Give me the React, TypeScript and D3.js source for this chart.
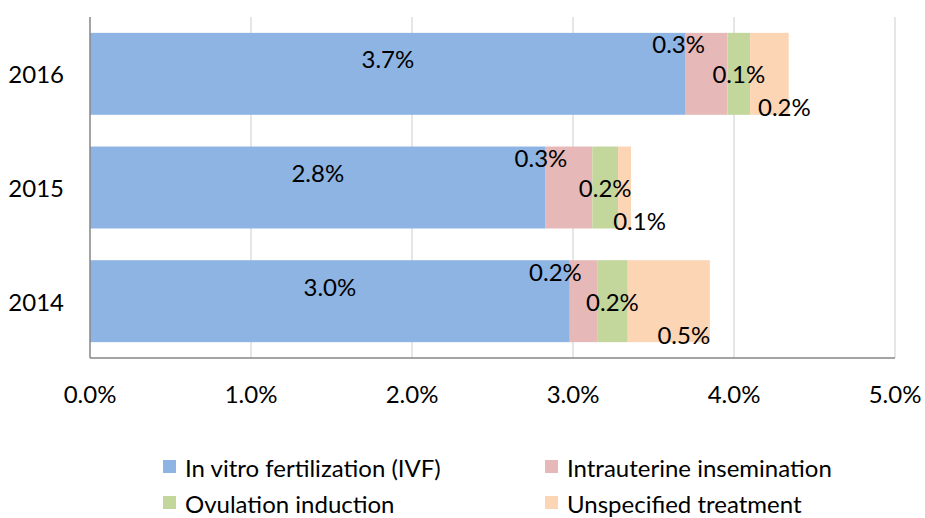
import React from "react";
import * as d3 from "d3";

const years = ["2016", "2015", "2014"];
const seriesNames = [
  "In vitro fertilization (IVF)",
  "Intrauterine insemination",
  "Ovulation induction",
  "Unspecified treatment",
];
// values in percent, per year (2016, 2015, 2014)
const ivf = [3.7, 2.83, 2.98];
const iui = [0.26, 0.29, 0.17];
const ovulation = [0.14, 0.16, 0.19];
const unspecified = [0.24, 0.08, 0.51];
const tickValues = [0, 1, 2, 3, 4, 5];

const colors = ["#8EB4E3", "#E6B9B8", "#C3D69B", "#FCD5B5"];
// label offsets per series (style)
const labelDx = [0, -28, 0, 15];
const labelDy = [-15, -30, 0, 33];

const W = 925;
const H = 518;
const FONT = "Lato, sans-serif";
const FS = 24;

export default function App() {
  const x = d3.scaleLinear().domain([0, 5]).range([90, 895]);
  const y = d3.scaleBand<string>().domain(years).range([17, 358]).paddingInner(0.279).paddingOuter(0.1395);
  const seriesValues = [ivf, iui, ovulation, unspecified];
  const rows = years.map((yr, i) => {
    const obj: any = { year: yr };
    seriesNames.forEach((s, k) => (obj[s] = seriesValues[k][i]));
    return obj;
  });
  const stacked = d3.stack<any>().keys(seriesNames)(rows);
  const bw = y.bandwidth();

  const legendItems = [
    { name: seriesNames[0], x: 163, y: 467, c: colors[0] },
    { name: seriesNames[1], x: 545, y: 467, c: colors[1] },
    { name: seriesNames[2], x: 163, y: 503, c: colors[2] },
    { name: seriesNames[3], x: 545, y: 503, c: colors[3] },
  ];

  return (
    <svg width={W} height={H} style={{ position: "absolute", left: 0, top: 0, background: "#fff" }} fontFamily={FONT}>
      <rect width={W} height={H} fill="#fff" />
      {tickValues.slice(1).map((t) => (
        <line key={t} x1={x(t)} x2={x(t)} y1={17} y2={358} stroke="#D9D9D9" strokeWidth={1.3} />
      ))}
      {stacked.map((layer, k) =>
        layer.map((d, i) => (
          <rect
            key={k + "-" + i}
            x={x(d[0])}
            y={y(years[i])!}
            width={x(d[1]) - x(d[0])}
            height={bw}
            fill={colors[k]}
          />
        ))
      )}
      <line x1={90} x2={90} y1={17} y2={358} stroke="#868686" strokeWidth={1.5} />
      <line x1={90} x2={895} y1={358} y2={358} stroke="#868686" strokeWidth={1.5} />
      {stacked.map((layer, k) =>
        layer.map((d, i) => (
          <text
            key={"l" + k + "-" + i}
            x={(x(d[0]) + x(d[1])) / 2 + labelDx[k]}
            y={y(years[i])! + bw / 2 + labelDy[k]}
            textAnchor="middle"
            dominantBaseline="central"
            fontSize={FS}
            fill="#000"
          >
            {seriesValues[k][i].toFixed(1) + "%"}
          </text>
        ))
      )}
      {years.map((yr) => (
        <text key={yr} x={64} y={y(yr)! + bw / 2} textAnchor="end" dominantBaseline="central" fontSize={FS} fill="#000">
          {yr}
        </text>
      ))}
      {tickValues.map((t) => (
        <text key={"t" + t} x={x(t)} y={393} textAnchor="middle" dominantBaseline="central" fontSize={FS} fill="#000">
          {t.toFixed(1) + "%"}
        </text>
      ))}
      {legendItems.map((it) => (
        <g key={it.name}>
          <rect x={it.x} y={it.y - 7} width={13} height={13} fill={it.c} />
          <text x={it.x + 22} y={it.y} dominantBaseline="central" fontSize={FS} fill="#000">
            {it.name}
          </text>
        </g>
      ))}
    </svg>
  );
}
